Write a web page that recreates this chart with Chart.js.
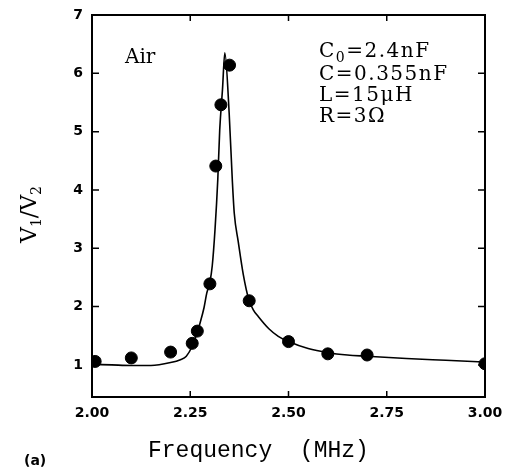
<!DOCTYPE html>
<html>
<head>
<meta charset="utf-8">
<script src="https://cdn.jsdelivr.net/npm/chart.js@4.4.1/dist/chart.umd.min.js"></script>
<style>
  html, body { margin: 0; padding: 0; background: #ffffff; }
  #wrap { width: 505px; height: 467px; }
</style>
</head>
<body>
<div id="wrap"><canvas id="c" width="505" height="467"></canvas></div>
<script>
// Measured points (frequency in MHz, V1/V2)
const measFreq  = [2.008, 2.10, 2.20, 2.255, 2.268, 2.30, 2.315, 2.328, 2.35, 2.40, 2.50, 2.60, 2.70, 3.00];
const measRatio = [1.06, 1.12, 1.22, 1.37, 1.58, 2.39, 4.41, 5.46, 6.14, 2.10, 1.40, 1.19, 1.17, 1.02];

// Fitted curve
const fitFreq  = [2.00, 2.05, 2.10, 2.15, 2.20, 2.225, 2.24, 2.255, 2.265, 2.275, 2.285, 2.292, 2.300, 2.306, 2.313, 2.320, 2.325, 2.332, 2.338, 2.349, 2.357, 2.362, 2.372, 2.385, 2.399, 2.41, 2.423, 2.45, 2.474, 2.50, 2.55, 2.60, 2.65, 2.70, 2.80, 2.90, 3.00];
const fitRatio = [1.01, 1.00, 0.99, 0.99, 1.04, 1.09, 1.15, 1.32, 1.50, 1.72, 1.98, 2.23, 2.42, 2.70, 3.32, 4.17, 5.03, 5.72, 6.35, 5.32, 4.17, 3.60, 3.12, 2.55, 2.12, 1.95, 1.83, 1.62, 1.49, 1.40, 1.28, 1.21, 1.17, 1.15, 1.11, 1.08, 1.05];

// Tick labels
const xTickValues = [2.00, 2.25, 2.50, 2.75, 3.00];
const yTickValues = [1, 2, 3, 4, 5, 6, 7];

// Texts
const sampleLabel = "Air";
const paramLines = [
  ["C", "0", "=2.4nF"],
  ["C=0.355nF", "", ""],
  ["L=15\u03BCH", "", ""],
  ["R=3\u03A9", "", ""]
];
const xTitle = "Frequency  (MHz)";
const panelLabel = "(a)";

const decor = {
  id: 'decor',
  afterDraw(chart) {
    const ctx = chart.ctx;
    const a = chart.chartArea;
    const xs = chart.scales.x, ys = chart.scales.y;
    ctx.save();
    // frame
    ctx.strokeStyle = '#000';
    ctx.lineWidth = 2;
    ctx.strokeRect(a.left, a.top, a.right - a.left, a.bottom - a.top);
    // inner ticks
    ctx.lineWidth = 1.5;
    ctx.beginPath();
    yTickValues.forEach(v => {
      const y = ys.getPixelForValue(v);
      if (v > ys.min && v < ys.max) {
        ctx.moveTo(a.left, y); ctx.lineTo(a.left + 7, y);
        ctx.moveTo(a.right, y); ctx.lineTo(a.right - 7, y);
      }
    });
    xTickValues.forEach(v => {
      const x = xs.getPixelForValue(v);
      if (v > xs.min && v < xs.max) {
        ctx.moveTo(x, a.bottom); ctx.lineTo(x, a.bottom - 6);
        ctx.moveTo(x, a.top); ctx.lineTo(x, a.top + 6);
      }
    });
    ctx.stroke();

    // texts
    ctx.fillStyle = '#000';
    ctx.textBaseline = 'alphabetic';
    ctx.textAlign = 'left';
    ctx.font = '20px "DejaVu Serif"';
    ctx.fillText(sampleLabel, 125, 63);

    const baselines = [57, 80, 101, 122];
    ctx.letterSpacing = '1.5px';
    paramLines.forEach((p, i) => {
      let x = 319;
      ctx.font = '20px "DejaVu Serif"';
      ctx.fillText(p[0], x, baselines[i]);
      x += ctx.measureText(p[0]).width;
      if (p[1]) {
        ctx.font = '14px "DejaVu Serif"';
        ctx.fillText(p[1], x, baselines[i] + 5);
        x += ctx.measureText(p[1]).width;
      }
      if (p[2]) {
        ctx.font = '20px "DejaVu Serif"';
        ctx.fillText(p[2], x, baselines[i]);
      }
    });
    ctx.letterSpacing = '0px';

    // x title
    ctx.font = '23px "Liberation Mono"';
    ctx.fillText(xTitle, 148, 457);

    // y title rotated
    ctx.save();
    ctx.translate(36, 243);
    ctx.rotate(-Math.PI / 2);
    ctx.font = '22px "DejaVu Serif"';
    let tx = 0;
    ctx.fillText("V", tx, 0); tx += ctx.measureText("V").width;
    ctx.font = '14px "DejaVu Serif"';
    ctx.fillText("1", tx, 5); tx += ctx.measureText("1").width;
    ctx.font = '22px "DejaVu Serif"';
    ctx.fillText("/V", tx, 0); tx += ctx.measureText("/V").width;
    ctx.font = '14px "DejaVu Serif"';
    ctx.fillText("2", tx, 5);
    ctx.restore();

    // panel label
    ctx.font = 'bold 14px "DejaVu Sans"';
    ctx.fillText(panelLabel, 24, 465);
    ctx.restore();
  }
};

new Chart(document.getElementById('c'), {
  type: 'scatter',
  data: {
    datasets: [
      {
        type: 'line',
        label: 'fit',
        data: fitFreq.map((f, i) => ({ x: f, y: fitRatio[i] })),
        borderColor: '#000',
        borderWidth: 1.6,
        pointRadius: 0,
        fill: false,
        cubicInterpolationMode: 'monotone',
        order: 2
      },
      {
        label: 'measured',
        data: measFreq.map((f, i) => ({ x: f, y: measRatio[i] })),
        backgroundColor: '#000',
        borderColor: '#000',
        pointRadius: 6,
        pointHoverRadius: 6,
        order: 1
      }
    ]
  },
  plugins: [decor],
  options: {
    responsive: false,
    animation: false,
    events: [],
    layout: { padding: { left: 0, right: 20, top: 15, bottom: 0 } },
    plugins: { legend: { display: false }, tooltip: { enabled: false } },
    scales: {
      x: {
        type: 'linear',
        min: 2.0, max: 3.0,
        afterBuildTicks: s => { s.ticks = xTickValues.map(v => ({ value: v })); },
        afterFit: s => { s.height = 70; s.paddingRight = 0; s.paddingLeft = 0; },
        grid: { display: false, drawTicks: false },
        border: { display: false },
        ticks: {
          padding: 8,
          color: '#000',
          font: { family: 'DejaVu Sans', size: 14, weight: 'bold' },
          callback: v => Number(v).toFixed(2),
          maxRotation: 0
        }
      },
      y: {
        type: 'linear',
        min: 0.45, max: 7,
        afterBuildTicks: s => { s.ticks = yTickValues.map(v => ({ value: v })); },
        afterFit: s => { s.width = 92; s.paddingTop = 0; s.paddingBottom = 0; },
        grid: { display: false, drawTicks: false },
        border: { display: false },
        ticks: {
          padding: 9,
          color: '#000',
          font: { family: 'DejaVu Sans', size: 14, weight: 'bold' },
          callback: v => String(v)
        }
      }
    }
  }
});
</script>
</body>
</html>
